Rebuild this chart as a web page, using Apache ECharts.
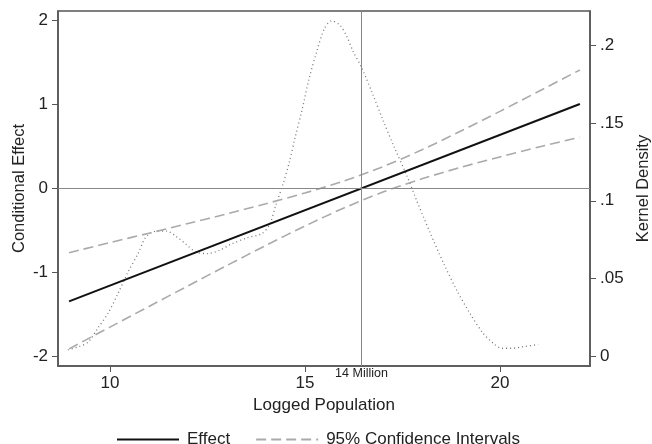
<!DOCTYPE html>
<html>
<head>
<meta charset="utf-8">
<script src="https://cdn.jsdelivr.net/npm/echarts@6/dist/echarts.min.js"></script>
<style>
html,body{margin:0;padding:0;background:#fff;}
#chart{width:652px;height:444px;}
</style>
</head>
<body>
<div id="chart"></div>
<script>
// Effect line (Logged population, conditional effect)
const effectX = [8.95, 22.05];
const effectY = [-1.35, 1.0];

// 95% confidence interval bounds
const ciX =     [8.95, 10, 11, 12, 13, 14, 15, 16, 17, 18, 19, 20, 21, 22.05];
const ciUpper = [-0.77, -0.65, -0.538, -0.423, -0.308, -0.187, -0.059, 0.084, 0.254, 0.455, 0.678, 0.912, 1.152, 1.405];
const ciLower = [-1.915, -1.656, -1.41, -1.165, -0.922, -0.683, -0.453, -0.238, -0.048, 0.109, 0.246, 0.37, 0.488, 0.605];

// Kernel density of logged population
const kdX = [8.92, 9.2, 9.44, 9.69, 9.95, 10.2, 10.46, 10.72, 10.93, 11.2, 11.45, 11.7, 11.95, 12.2, 12.5, 12.8, 13.1, 13.5, 13.9, 14.1, 14.25, 14.44, 14.6, 14.75, 14.92, 15.1, 15.3, 15.5, 15.68, 15.9, 16.07, 16.24, 16.45, 16.75, 17.0, 17.3, 17.6, 17.86, 18.2, 18.55, 18.89, 19.23, 19.57, 19.83, 20.04, 20.3, 20.6, 20.98];
const kdY = [0.004, 0.006, 0.009, 0.018, 0.0275, 0.04, 0.054, 0.066, 0.077, 0.0805, 0.0805, 0.077, 0.072, 0.067, 0.066, 0.068, 0.072, 0.076, 0.079, 0.085, 0.097, 0.111, 0.125, 0.141, 0.158, 0.178, 0.196, 0.211, 0.216, 0.213, 0.206, 0.196, 0.186, 0.168, 0.152, 0.134, 0.117, 0.1005, 0.08, 0.06, 0.0425, 0.0275, 0.0146, 0.0082, 0.005, 0.005, 0.006, 0.0075];

// Ticks
const xTicks = [10, 15, 20];
const yLeftTicks = [-2, -1, 0, 1, 2];
const yRightTicks = [0, 0.05, 0.1, 0.15, 0.2];
const refX = 16.455; // log(14 million)
const refXLabel = '14 Million';

const zip = (a, b) => a.map((v, i) => [v, b[i]]);
const FONT = 'Liberation Sans, Arial, Helvetica, sans-serif';
const TXT = '#222';

const chart = echarts.init(document.getElementById('chart'), null, {renderer: 'canvas'});
chart.setOption({
  animation: false,
  backgroundColor: '#fff',
  textStyle: {fontFamily: FONT, color: TXT},
  grid: {left: 58, top: 11, right: 62, bottom: 78, show: true, borderColor: '#555', borderWidth: 1.5, containLabel: false, outerBoundsMode: 'none'},
  legend: {
    data: ['Effect', '95% Confidence Intervals'],
    left: 111, top: 426,
    itemWidth: 62, itemHeight: 12, itemGap: 25,
    itemStyle: {opacity: 0},
    textStyle: {fontFamily: FONT, fontSize: 17, color: TXT, padding: [0, 0, 0, 3]},
    selectedMode: false
  },
  xAxis: {
    type: 'value', min: 8.667, max: 22.31,
    name: 'Logged Population', nameLocation: 'middle', nameGap: 29,
    nameTextStyle: {fontFamily: FONT, fontSize: 17, color: TXT},
    axisLine: {show: true, onZero: false, lineStyle: {color: '#555', width: 1.5}},
    axisTick: {show: true, length: 6, customValues: xTicks, lineStyle: {color: '#555'}},
    axisLabel: {customValues: xTicks, fontSize: 17, color: TXT, margin: 9, fontFamily: FONT},
    splitLine: {show: false}
  },
  yAxis: [{
    type: 'value', min: -2.119, max: 2.107, position: 'left',
    name: 'Conditional Effect', nameLocation: 'middle', nameGap: 30, nameRotate: 90, nameMoveOverlap: false,
    nameTextStyle: {fontFamily: FONT, fontSize: 16.5, color: TXT},
    axisLine: {show: true, onZero: false, lineStyle: {color: '#555', width: 1.5}},
    axisTick: {show: true, length: 6, customValues: yLeftTicks, lineStyle: {color: '#555'}},
    axisLabel: {customValues: yLeftTicks, fontSize: 17, color: TXT, margin: 10, fontFamily: FONT},
    splitLine: {show: false}
  }, {
    type: 'value', min: -0.00644, max: 0.2223, position: 'right',
    name: 'Kernel Density', nameLocation: 'middle', nameGap: 45, nameRotate: 90,
    nameTextStyle: {fontFamily: FONT, fontSize: 16.5, color: TXT},
    axisLine: {show: true, onZero: false, lineStyle: {color: '#555', width: 1.5}},
    axisTick: {show: true, length: 6, customValues: yRightTicks, lineStyle: {color: '#555'}},
    axisLabel: {customValues: yRightTicks, fontSize: 17, color: TXT, margin: 10, fontFamily: FONT,
      formatter: v => v === 0 ? '0' : String(+v.toFixed(3)).replace(/^0/, '')},
    splitLine: {show: false}
  }],
  series: [{
    name: 'Kernel Density', type: 'line', yAxisIndex: 1, data: zip(kdX, kdY),
    symbol: 'none', smooth: 0.3, silent: true,
    lineStyle: {color: '#777', width: 1.3, type: [1, 3]},
    z: 1
  }, {
    name: '95% Confidence Intervals', type: 'line', data: zip(ciX, ciUpper),
    symbol: 'none', smooth: 0.3,
    lineStyle: {color: '#aaa', width: 1.6, type: [10, 5]},
    itemStyle: {color: '#aaa'},
    z: 2
  }, {
    name: '95% Confidence Intervals', type: 'line', data: zip(ciX, ciLower),
    symbol: 'none', smooth: 0.3,
    lineStyle: {color: '#aaa', width: 1.6, type: [10, 5]},
    itemStyle: {color: '#aaa'},
    z: 2
  }, {
    name: 'Effect', type: 'line', data: zip(effectX, effectY),
    symbol: 'none',
    lineStyle: {color: '#111', width: 2},
    itemStyle: {color: '#111'},
    z: 3,
    markLine: {
      silent: true, symbol: 'none', animation: false,
      lineStyle: {color: '#888', width: 1, type: 'solid'},
      data: [
        {yAxis: 0, label: {show: false}},
        {xAxis: refX, label: {show: true, position: 'start', formatter: refXLabel, fontSize: 12.5, color: TXT, distance: 1, fontFamily: FONT}}
      ]
    }
  }]
});
</script>
</body>
</html>
